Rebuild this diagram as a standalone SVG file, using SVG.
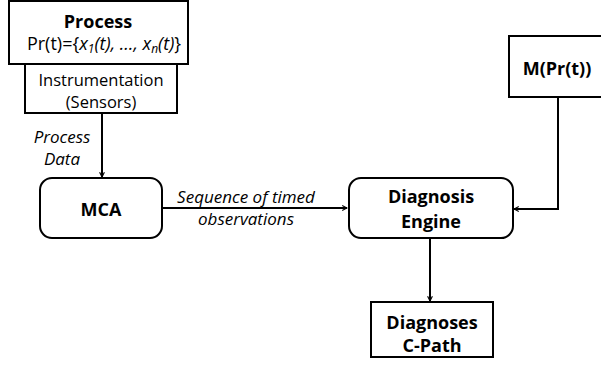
<svg xmlns="http://www.w3.org/2000/svg" width="601" height="373" viewBox="0 0 601 373">
<style>
.box{fill:#fff;stroke:#000;stroke-width:2}
.t{font-family:"Open Sans","Liberation Sans",sans-serif;fill:#000;text-anchor:middle}
.b{font-weight:bold;font-size:18px}
.n{font-size:16.5px}
.i{font-style:italic;font-size:17px}
.c{fill:none;stroke:#000;stroke-width:2}
</style>
<defs>
<marker id="ah" viewBox="0 0 10 10" refX="9" refY="5" markerWidth="6" markerHeight="6" orient="auto" markerUnits="userSpaceOnUse">
<path d="M1,1 L9,5 L1,9" fill="none" stroke="#000" stroke-width="1.8"/>
</marker>
</defs>
<g id="connectors">
<line class="c" x1="102" y1="113" x2="102" y2="177" marker-end="url(#ah)"/>
<line class="c" x1="162" y1="208" x2="347" y2="208" marker-end="url(#ah)"/>
<polyline class="c" points="558,97 558,209 514,209" marker-end="url(#ah)"/>
<line class="c" x1="430" y1="238" x2="430" y2="301" marker-end="url(#ah)"/>
<text class="t i" x="62" y="143">Process</text>
<text class="t i" x="62" y="165">Data</text>
<text class="t i" x="246" y="203">Sequence of timed</text>
<text class="t i" x="246" y="225">observations</text>
</g>
<g id="process">
<rect class="box" x="9" y="1" width="179" height="63"/>
<text class="t b" x="98" y="28">Process</text>
<text class="t" font-size="18" x="104" y="50">Pr(t)={<tspan font-style="italic">x<tspan font-size="12" dy="3">1</tspan><tspan dy="-3">(t), …, x</tspan><tspan font-size="12" dy="3">n</tspan><tspan dy="-3">(t)</tspan></tspan>}</text>
</g>
<g id="instrumentation">
<rect class="box" x="25" y="64" width="152" height="49"/>
<text class="t n" x="101" y="86">Instrumentation</text>
<text class="t n" x="101" y="108">(Sensors)</text>
</g>
<g id="mca">
<rect class="box" x="40" y="178" width="122" height="60" rx="12"/>
<text class="t b" font-size="19" x="101" y="216">MCA</text>
</g>
<g id="model">
<rect class="box" x="509" y="36" width="95" height="61"/>
<text class="t b" x="557" y="75">M(Pr(t))</text>
</g>
<g id="engine">
<rect class="box" x="349" y="178" width="164" height="60" rx="12"/>
<text class="t b" x="431" y="203">Diagnosis</text>
<text class="t b" x="431" y="228">Engine</text>
</g>
<g id="diagnoses">
<rect class="box" x="371" y="302" width="122" height="55"/>
<text class="t b" x="432" y="329">Diagnoses</text>
<text class="t b" x="432" y="352">C-Path</text>
</g>
</svg>
